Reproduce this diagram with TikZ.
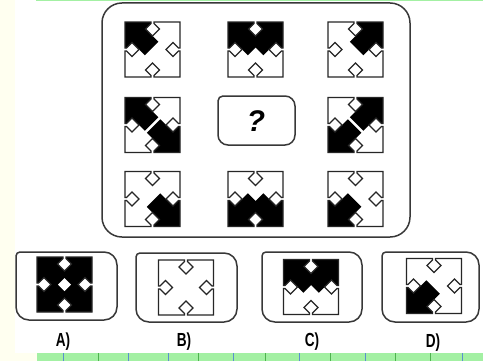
\documentclass[tikz,border=0pt]{standalone}
\usepackage{fontspec}
\setsansfont{Liberation Sans}
\definecolor{bandgreen}{HTML}{A3F0A3}
\definecolor{tickgreen}{HTML}{4FB34F}
\definecolor{tickblue}{HTML}{5A8FD0}
\definecolor{paleyellow}{HTML}{FFFFF0}
\begin{document}
\begin{tikzpicture}[x=1bp,y=1bp,
  boxline/.style={draw=black!78, line width=1.5bp},
  tileline/.style={draw=black!85, line width=1.2bp, line join=miter},
  lbl/.style={font=\sffamily\bfseries\fontsize{19}{19}\selectfont, xscale=0.72, inner sep=0pt},
  pTL/.pic={\fill[black] (-27.5,27.5) -- (-1.5,27.5) -- (-1.5,26) -- (-7,20.5) -- (5.75,7.75) -- (-7.75,-5.75) -- (-20.5,7) -- (-26,1.5) -- (-27.5,1.5) -- cycle;},
  pTR/.pic={\fill[black] (27.5,27.5) -- (1.5,27.5) -- (1.5,26) -- (7,20.5) -- (-5.75,7.75) -- (7.75,-5.75) -- (20.5,7) -- (26,1.5) -- (27.5,1.5) -- cycle;},
  pBL/.pic={\fill[black] (-27.5,-27.5) -- (-1.5,-27.5) -- (-1.5,-26) -- (-7,-20.5) -- (5.75,-7.75) -- (-7.75,5.75) -- (-20.5,-7) -- (-26,-1.5) -- (-27.5,-1.5) -- cycle;},
  pBR/.pic={\fill[black] (27.5,-27.5) -- (1.5,-27.5) -- (1.5,-26) -- (7,-20.5) -- (-5.75,-7.75) -- (7.75,5.75) -- (20.5,-7) -- (26,-1.5) -- (27.5,-1.5) -- cycle;},
  pCenter/.pic={\fill[white] (0,6.5) -- (6.5,0) -- (0,-6.5) -- (-6.5,0) -- cycle;},
  tileframe/.pic={
    \draw[tileline] (-27.5,27.5) -- (-1.5,27.5) -- (-1.5,26) -- (-7,20.5) -- (0,13.5) -- (7,20.5) -- (1.5,26) -- (1.5,27.5)
      -- (27.5,27.5) -- (27.5,1.5) -- (26,1.5) -- (20.5,7) -- (13.5,0) -- (20.5,-7) -- (26,-1.5) -- (27.5,-1.5)
      -- (27.5,-27.5) -- (1.5,-27.5) -- (1.5,-26) -- (7,-20.5) -- (0,-13.5) -- (-7,-20.5) -- (-1.5,-26) -- (-1.5,-27.5)
      -- (-27.5,-27.5) -- (-27.5,-1.5) -- (-26,-1.5) -- (-20.5,-7) -- (-13.5,0) -- (-20.5,7) -- (-26,1.5) -- (-27.5,1.5) -- cycle;
  }
]
\useasboundingbox (0,0) rectangle (483,361);
% background
\fill[white] (0,0) rectangle (483,361);
\fill[paleyellow] (0,0) rectangle (15,361);
\fill[paleyellow] (0,0) rectangle (37,8);
\fill[bandgreen] (37,0) rectangle (483,8);
\fill[bandgreen] (36,359.5) rectangle (483,361);
\foreach \t/\c in {63/tickblue,98/tickgreen,128/tickblue,168/tickblue,198/tickgreen,233/tickblue,265/tickgreen,299/tickblue,330/tickgreen,365/tickblue,395/tickgreen,430/tickgreen,462/tickblue}
  \draw[\c, line width=1bp] (\t,0) -- (\t,8);

% main frame
\draw[boxline, rounded corners=20] (102,124) rectangle (410,358);

% question box
\draw[boxline] (218,240) [rounded corners=5] -- (218,265) [rounded corners=10] -- (295,265) -- (295,216) -- (218,216) -- cycle;
\node[font=\sffamily\bfseries\itshape\fontsize{30}{30}\selectfont, inner sep=0pt] (q) at (256,240) {?};

% row 1
\pic at (152.5,311.5) {pTL}; \pic at (152.5,311.5) {tileframe};
\pic at (255.5,311.5) {pTL}; \pic at (255.5,311.5) {pTR}; \pic at (255.5,311.5) {tileframe};
\pic at (355.5,311.5) {pTR}; \pic at (355.5,311.5) {tileframe};
% row 2
\pic at (152.5,236) {pTL}; \pic at (152.5,236) {pBR}; \pic at (152.5,236) {tileframe};
\pic at (355.5,236) {pTR}; \pic at (355.5,236) {pBL}; \pic at (355.5,236) {tileframe};
% row 3
\pic at (152.5,162) {pBR}; \pic at (152.5,162) {tileframe};
\pic at (255.5,162) {pBL}; \pic at (255.5,162) {pBR}; \pic at (255.5,162) {tileframe};
\pic at (355.5,162) {pBL}; \pic at (355.5,162) {tileframe};

% answer boxes
\draw[boxline] (16,75) [rounded corners=4] -- (16,109) [rounded corners=13] -- (117,109) -- (117,41) -- (16,41) -- cycle;
\draw[boxline] (136,74) [rounded corners=4] -- (136,108) [rounded corners=13] -- (237,108) -- (237,39) -- (136,39) -- cycle;
\draw[boxline] (262,74) [rounded corners=4] -- (262,109) [rounded corners=13] -- (362,109) -- (362,39) -- (262,39) -- cycle;
\draw[boxline] (382,74) [rounded corners=4] -- (382,109) [rounded corners=13] -- (479,109) -- (479,39) -- (382,39) -- cycle;

% answer tiles
\pic at (64.5,76.5) {pTL}; \pic at (64.5,76.5) {pTR}; \pic at (64.5,76.5) {pBL}; \pic at (64.5,76.5) {pBR};
\pic at (64.5,76.5) {tileframe}; \pic at (64.5,76.5) {pCenter};
\pic at (186,73.5) {tileframe};
\pic at (311,74) {pTL}; \pic at (311,74) {pTR}; \pic at (311,74) {tileframe};
\pic at (434,75) {pBL}; \pic at (434,75) {tileframe};

% labels
\node[lbl] (la) at (63,19) {A)};
\node[lbl] (lb) at (184,19) {B)};
\node[lbl] (lc) at (312,19) {C)};
\node[lbl] (ld) at (433,18) {D)};
\end{tikzpicture}
\end{document}
